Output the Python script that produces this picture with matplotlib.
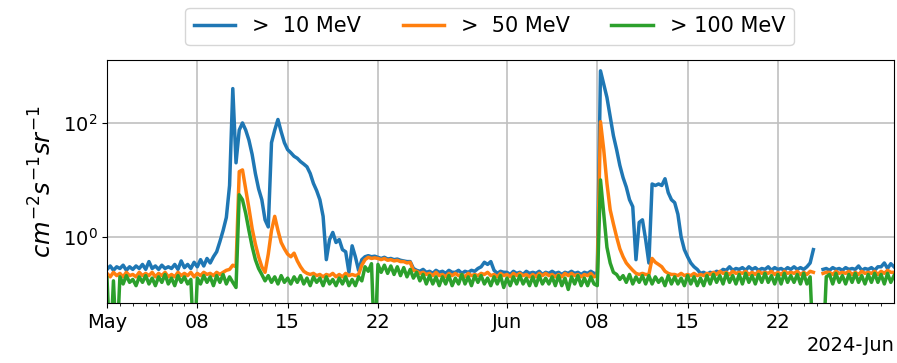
import numpy as np
import pandas as pd
import matplotlib
matplotlib.use('Agg')
import matplotlib.pyplot as plt
import matplotlib.dates as mdates
import matplotlib.ticker as mticker

nan = np.nan

# GOES integral proton flux, May-June 2024, one value every 6 hours (days since 2024-05-01)
start = pd.Timestamp('2024-05-01')
days = np.arange(0, 61.25, 0.25)

flux_10 = [
    0.27, 0.31, 0.26, 0.30,   0.28, 0.32, 0.26, 0.30,   0.27, 0.31, 0.28, 0.33,
    0.27, 0.37, 0.28, 0.31,   0.27, 0.32, 0.28, 0.30,   0.28, 0.33, 0.27, 0.38,
    0.29, 0.33, 0.28, 0.36,   0.30, 0.40, 0.31, 0.42,   0.35, 0.45, 0.55, 0.83,
    1.3, 2.2, 8.0, 400,       20, 75, 100, 75,          50, 28, 13, 7.0,
    4.5, 2.0, 1.5, 45,        75, 115, 70, 45,          34, 30, 26, 24,
    21, 19, 17, 13,           8.7, 6.5, 4.5, 2.3,       0.4, 0.9, 1.2, 0.8,
    0.9, 0.6, 0.55, 0.24,     0.7, 0.45, 0.26, 0.40,    0.45, 0.47, 0.45, 0.46,
    0.44, 0.42, 0.44, 0.41,   0.42, 0.40, 0.41, 0.39,   0.38, 0.37, 0.37, 0.28,
    0.26, 0.25, 0.27, 0.24,   0.25, 0.23, 0.26, 0.24,   0.25, 0.23, 0.26, 0.24,
    0.24, 0.26, 0.23, 0.25,   0.24, 0.26, 0.25, 0.28,   0.30, 0.36, 0.33, 0.37,
    0.26, 0.23, 0.25, 0.24,   0.24, 0.22, 0.25, 0.23,   0.24, 0.22, 0.25, 0.23,
    0.24, 0.23, 0.25, 0.22,   0.24, 0.23, 0.25, 0.23,   0.24, 0.22, 0.24, 0.23,
    0.25, 0.23, 0.24, 0.22,   0.24, 0.23, 0.25, 0.23,   0.23, 820, 480, 280,
    130, 60, 34, 18,          11, 7.5, 4.5, 3.4,        0.4, 1.8, 2.0, 0.9,
    0.35, 8.5, 8.0, 8.5,      8.0, 10.5, 6.0, 4.5,      4.0, 2.5, 1.0, 0.6,
    0.45, 0.35, 0.30, 0.27,   0.23, 0.24, 0.22, 0.24,   0.23, 0.25, 0.24, 0.27,
    0.26, 0.30, 0.26, 0.28,   0.27, 0.29, 0.26, 0.30,   0.27, 0.29, 0.26, 0.28,
    0.27, 0.30, 0.26, 0.29,   0.27, 0.28, 0.26, 0.29,   0.27, 0.30, 0.27, 0.29,
    0.27, 0.30, 0.35, 0.60,   nan, nan, 0.27, 0.28,     0.26, 0.29, 0.27, 0.28,
    0.26, 0.29, 0.27, 0.28,   0.27, 0.31, 0.26, 0.28,   0.27, 0.29, 0.26, 0.30,
    0.30, 0.35, 0.28, 0.34,
    0.30,
]

flux_50 = [
    0.23, 0.20, 0.24, 0.21,   0.23, 0.20, 0.24, 0.21,   0.22, 0.20, 0.24, 0.21,
    0.23, 0.21, 0.24, 0.20,   0.23, 0.21, 0.24, 0.20,   0.22, 0.20, 0.24, 0.21,
    0.23, 0.21, 0.24, 0.20,   0.23, 0.21, 0.24, 0.22,   0.23, 0.21, 0.24, 0.22,
    0.24, 0.26, 0.27, 0.32,   0.30, 14, 15, 7.0,        3.2, 1.4, 0.75, 0.45,
    0.30, 0.24, 0.50, 1.3,    2.3, 1.3, 0.80, 0.62,     0.50, 0.45, 0.52, 0.38,
    0.30, 0.25, 0.23, 0.22,   0.23, 0.21, 0.22, 0.20,   0.22, 0.21, 0.23, 0.20,
    0.22, 0.20, 0.23, 0.21,   0.22, 0.21, 0.22, 0.32,   0.40, 0.44, 0.42, 0.43,
    0.42, 0.40, 0.42, 0.39,   0.40, 0.38, 0.39, 0.37,   0.37, 0.35, 0.36, 0.26,
    0.25, 0.23, 0.24, 0.22,   0.23, 0.21, 0.24, 0.21,   0.22, 0.20, 0.23, 0.21,
    0.23, 0.21, 0.22, 0.20,   0.23, 0.21, 0.22, 0.21,   0.23, 0.22, 0.24, 0.21,
    0.22, 0.20, 0.23, 0.21,   0.22, 0.20, 0.23, 0.21,   0.23, 0.21, 0.22, 0.20,
    0.22, 0.20, 0.23, 0.21,   0.23, 0.21, 0.22, 0.20,   0.22, 0.20, 0.23, 0.21,
    0.23, 0.21, 0.22, 0.20,   0.22, 0.21, 0.23, 0.20,   0.21, 105, 34, 8.7,
    3.0, 1.7, 1.0, 0.62,      0.45, 0.35, 0.30, 0.26,   0.23, 0.22, 0.23, 0.22,
    0.22, 0.42, 0.36, 0.33,   0.30, 0.25, 0.23, 0.22,   0.22, 0.21, 0.23, 0.21,
    0.22, 0.21, 0.23, 0.21,   0.22, 0.21, 0.23, 0.22,   0.24, 0.22, 0.25, 0.23,
    0.24, 0.22, 0.25, 0.23,   0.24, 0.23, 0.25, 0.22,   0.24, 0.22, 0.25, 0.23,
    0.24, 0.23, 0.25, 0.22,   0.24, 0.22, 0.25, 0.23,   0.24, 0.23, 0.25, 0.22,
    0.24, 0.22, 0.25, 0.24,   nan, nan, 0.23, 0.24,     0.24, 0.22, 0.25, 0.23,
    0.24, 0.23, 0.25, 0.22,   0.24, 0.22, 0.25, 0.23,   0.24, 0.23, 0.25, 0.22,
    0.25, 0.23, 0.26, 0.24,
    0.24,
]

flux_100 = [
    0.19, 0.01, 0.17, 0.01,   0.20, 0.15, 0.21, 0.16,   0.18, 0.14, 0.20, 0.16,
    0.21, 0.15, 0.19, 0.14,   0.20, 0.16, 0.22, 0.15,   0.19, 0.14, 0.21, 0.16,
    0.20, 0.15, 0.18, 0.01,   0.19, 0.15, 0.21, 0.16,   0.20, 0.14, 0.21, 0.16,
    0.22, 0.15, 0.20, 0.16,   0.13, 5.5, 4.5, 2.6,      1.3, 0.68, 0.40, 0.28,
    0.22, 0.17, 0.21, 0.16,   0.20, 0.15, 0.21, 0.16,   0.19, 0.15, 0.20, 0.16,
    0.21, 0.15, 0.19, 0.14,   0.20, 0.16, 0.19, 0.14,   0.20, 0.15, 0.18, 0.14,
    0.19, 0.15, 0.20, 0.14,   0.18, 0.14, 0.20, 0.17,   0.30, 0.25, 0.34, 0.01,
    0.33, 0.24, 0.32, 0.23,   0.31, 0.22, 0.30, 0.21,   0.29, 0.20, 0.27, 0.19,
    0.24, 0.17, 0.22, 0.15,   0.21, 0.15, 0.20, 0.14,   0.20, 0.15, 0.21, 0.14,
    0.19, 0.15, 0.22, 0.15,   0.20, 0.14, 0.21, 0.16,   0.21, 0.15, 0.19, 0.14,
    0.20, 0.15, 0.21, 0.13,   0.19, 0.14, 0.20, 0.15,   0.21, 0.15, 0.19, 0.14,
    0.20, 0.14, 0.21, 0.15,   0.19, 0.15, 0.20, 0.14,   0.21, 0.14, 0.19, 0.12,
    0.20, 0.15, 0.21, 0.14,   0.19, 0.14, 0.20, 0.15,   0.14, 10.0, 2.6, 0.66,
    0.35, 0.24, 0.22, 0.18,   0.21, 0.16, 0.22, 0.15,   0.20, 0.16, 0.21, 0.15,
    0.21, 0.15, 0.20, 0.16,   0.19, 0.14, 0.21, 0.15,   0.20, 0.15, 0.19, 0.14,
    0.21, 0.15, 0.20, 0.14,   0.19, 0.14, 0.21, 0.15,   0.22, 0.16, 0.21, 0.15,
    0.23, 0.16, 0.21, 0.15,   0.22, 0.15, 0.23, 0.16,   0.21, 0.15, 0.22, 0.16,
    0.23, 0.16, 0.21, 0.15,   0.22, 0.15, 0.23, 0.16,   0.21, 0.16, 0.22, 0.15,
    0.23, 0.15, 0.20, 0.01,   nan, nan, 0.01, 0.20,     0.22, 0.15, 0.23, 0.16,
    0.21, 0.15, 0.22, 0.16,   0.23, 0.16, 0.21, 0.15,   0.22, 0.16, 0.23, 0.16,
    0.22, 0.15, 0.23, 0.16,
    0.21,
]

labels = ['>  10 MeV', '>  50 MeV', '> 100 MeV']

times = start + pd.to_timedelta(days, unit='D')

plt.rcParams['xtick.labelsize'] = 14
plt.rcParams['ytick.labelsize'] = 14

fig = plt.figure(figsize=(8.97, 3.63), dpi=100)
ax = fig.add_axes([107 / 897, 60 / 363, 787 / 897, 243 / 363])

for flux, label in zip([flux_10, flux_50, flux_100], labels):
    ax.plot(times, flux, label=label, linewidth=2.5)

ax.set_yscale('log')
ax.set_ylim(0.0695, 1270)
ax.yaxis.set_major_locator(mticker.LogLocator(base=100))
ax.yaxis.set_minor_locator(mticker.NullLocator())
ax.set_ylabel(r'$cm^{-2}s^{-1}sr^{-1}$', fontsize=17.5)

ax.set_xlim(pd.Timestamp('2024-05-01'), pd.Timestamp('2024-06-30 23:59'))
locator = mdates.DayLocator(bymonthday=[1, 8, 15, 22])
ax.xaxis.set_major_locator(locator)
ax.xaxis.set_major_formatter(mdates.ConciseDateFormatter(locator))
ax.xaxis.set_minor_locator(mdates.DayLocator())

ax.grid(True, color='#c0c0c0', linewidth=1.2)

fig.legend(loc='upper center', bbox_to_anchor=(489.5 / 897, 1 - 8 / 363), ncol=3,
           fontsize=15, borderaxespad=0)

plt.savefig('out.png', dpi=100)
